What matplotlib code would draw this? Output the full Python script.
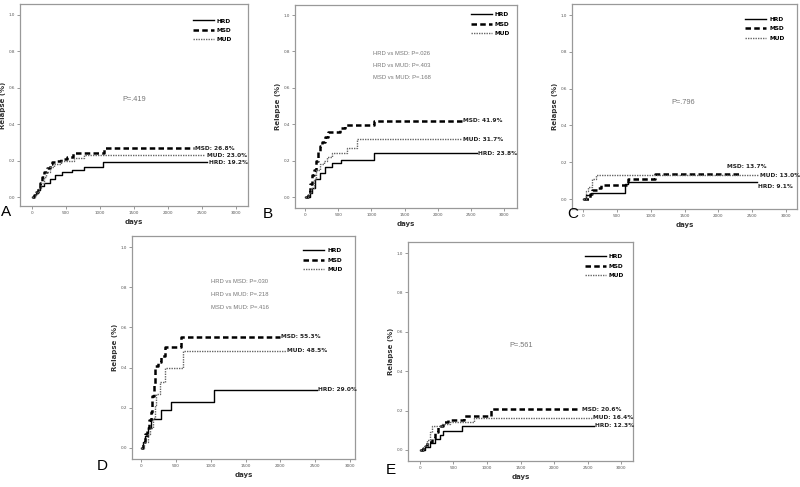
import matplotlib
matplotlib.use("Agg")
import matplotlib.pyplot as plt

plt.rcParams['font.family'] = ['DejaVu Sans']

# step curves: time (days) and cumulative relapse, value holds until next time
A_HRD_t = [0, 30, 60, 90, 120, 170, 270, 340, 440, 590, 760, 1050, 2580]
A_HRD_v = [0, 0.01, 0.025, 0.04, 0.06, 0.075, 0.10, 0.12, 0.14, 0.15, 0.165, 0.192, 0.192]
A_MSD_t = [0, 30, 60, 90, 120, 150, 180, 220, 260, 300, 360, 420, 520, 600, 1060, 2380]
A_MSD_v = [0, 0.01, 0.03, 0.05, 0.08, 0.11, 0.14, 0.16, 0.18, 0.19, 0.2, 0.21, 0.22, 0.24, 0.268, 0.268]
A_MUD_t = [0, 40, 70, 100, 130, 170, 210, 260, 320, 420, 620, 760, 2550]
A_MUD_v = [0, 0.01, 0.03, 0.05, 0.08, 0.11, 0.14, 0.165, 0.18, 0.2, 0.215, 0.23, 0.23]

B_HRD_t = [0, 70, 110, 150, 225, 300, 410, 540, 1045, 2590]
B_HRD_v = [0, 0.02, 0.05, 0.10, 0.13, 0.165, 0.185, 0.205, 0.24, 0.24]
B_MSD_t = [0, 40, 70, 100, 130, 160, 190, 220, 260, 300, 350, 420, 520, 600, 1045, 2360]
B_MSD_v = [0, 0.03, 0.07, 0.12, 0.15, 0.2, 0.25, 0.28, 0.3, 0.33, 0.355, 0.36, 0.38, 0.395, 0.419, 0.419]
B_MUD_t = [0, 50, 90, 130, 170, 220, 280, 330, 400, 630, 780, 2360]
B_MUD_v = [0, 0.02, 0.05, 0.1, 0.15, 0.18, 0.2, 0.22, 0.24, 0.272, 0.317, 0.317]

C_HRD_t = [0, 50, 120, 620, 660, 2570]
C_HRD_v = [0, 0.02, 0.035, 0.08, 0.091, 0.091]
C_MSD_t = [0, 100, 130, 200, 270, 660, 1060, 2330]
C_MSD_v = [0, 0.03, 0.05, 0.06, 0.077, 0.11, 0.137, 0.137]
C_MUD_t = [0, 40, 80, 140, 190, 2590]
C_MUD_v = [0, 0.045, 0.065, 0.11, 0.13, 0.13]

D_HRD_t = [0, 25, 60, 100, 145, 290, 437, 1050, 2520]
D_HRD_v = [0, 0.03, 0.06, 0.1, 0.145, 0.19, 0.23, 0.29, 0.29]
D_MSD_t = [0, 25, 60, 90, 120, 140, 160, 180, 200, 240, 280, 340, 570, 1990]
D_MSD_v = [0, 0.03, 0.07, 0.1, 0.14, 0.18, 0.26, 0.32, 0.41, 0.43, 0.46, 0.50, 0.553, 0.553]
D_MUD_t = [0, 40, 100, 130, 170, 200, 218, 267, 340, 607, 2080]
D_MUD_v = [0, 0.03, 0.07, 0.10, 0.15, 0.215, 0.27, 0.33, 0.40, 0.485, 0.485]

E_HRD_t = [0, 75, 150, 225, 300, 350, 625, 2590]
E_HRD_v = [0, 0.015, 0.035, 0.055, 0.075, 0.095, 0.123, 0.123]
E_MSD_t = [0, 50, 100, 175, 225, 275, 350, 420, 650, 1056, 2390]
E_MSD_v = [0, 0.02, 0.04, 0.06, 0.09, 0.12, 0.14, 0.15, 0.175, 0.206, 0.206]
E_MUD_t = [0, 50, 100, 150, 175, 325, 450, 800, 2565]
E_MUD_v = [0, 0.02, 0.05, 0.09, 0.12, 0.13, 0.14, 0.164, 0.164]

groups = ['HRD', 'MSD', 'MUD']
final_labels = {
    'A': ['HRD: 19.2%', 'MSD: 26.8%', 'MUD: 23.0%'],
    'B': ['HRD: 23.8%', 'MSD: 41.9%', 'MUD: 31.7%'],
    'C': ['HRD: 9.1%', 'MSD: 13.7%', 'MUD: 13.0%'],
    'D': ['HRD: 29.0%', 'MSD: 55.3%', 'MUD: 48.5%'],
    'E': ['HRD: 12.3%', 'MSD: 20.6%', 'MUD: 16.4%'],
}
p_texts = {
    'A': ['P=.419'],
    'B': ['HRD vs MSD: P=.026', 'HRD vs MUD: P=.403', 'MSD vs MUD: P=.168'],
    'C': ['P=.796'],
    'D': ['HRD vs MSD: P=.030', 'HRD vs MUD: P=.218', 'MSD vs MUD: P=.416'],
    'E': ['P=.561'],
}
curves = {
    'A': [(A_HRD_t, A_HRD_v), (A_MSD_t, A_MSD_v), (A_MUD_t, A_MUD_v)],
    'B': [(B_HRD_t, B_HRD_v), (B_MSD_t, B_MSD_v), (B_MUD_t, B_MUD_v)],
    'C': [(C_HRD_t, C_HRD_v), (C_MSD_t, C_MSD_v), (C_MUD_t, C_MUD_v)],
    'D': [(D_HRD_t, D_HRD_v), (D_MSD_t, D_MSD_v), (D_MUD_t, D_MUD_v)],
    'E': [(E_HRD_t, E_HRD_v), (E_MSD_t, E_MSD_v), (E_MUD_t, E_MUD_v)],
}

W, H = 800, 487
# panel frame in pixels (left, right, top, bottom), axis limits, letter position,
# legend anchor and position of the p-value text
layout = {
    'A': dict(px=(20, 248, 4, 206), xlim=(-176, 3176), ylim=(-0.049, 1.06), letter=(6, 212),
              leg=(0.94, 0.94), ptxt=(1500, 0.533)),
    'B': dict(px=(295, 517, 5, 208), xlim=(-151, 3196), ylim=(-0.06, 1.055), letter=(268, 214),
              leg=(0.98, 0.975), ptxt=(1455, 0.786)),
    'C': dict(px=(572, 797, 4, 209), xlim=(-163, 3163), ylim=(-0.054, 1.06), letter=(573, 214),
              leg=(0.955, 0.95), ptxt=(1480, 0.527)),
    'D': dict(px=(132, 355, 236, 459), xlim=(-129, 3071), ylim=(-0.055, 1.055), letter=(102, 466),
              leg=(0.955, 0.955), ptxt=(1420, 0.83)),
    'E': dict(px=(408, 633, 242, 461), xlim=(-179, 3179), ylim=(-0.056, 1.056), letter=(391, 470),
              leg=(0.97, 0.955), ptxt=(1505, 0.53)),
}
# end-label offsets in points, per panel and group
label_off = {
    'C': {0: (1, -3), 1: (-10, 5)},
}

styles = [
    dict(color='black', lw=1.0, ls='-'),
    dict(color='black', lw=1.8, ls=(0, (2.2, 1.3))),
    dict(color='#666666', lw=1.0, ls=(0, (1, 0.8))),
]

fig = plt.figure(figsize=(W / 100, H / 100), dpi=100)
fig.patch.set_facecolor('white')

for key in ['A', 'B', 'C', 'D', 'E']:
    lay = layout[key]
    l, r, t, b = lay['px']
    ax = fig.add_axes([l / W, (H - b) / H, (r - l) / W, (b - t) / H])
    for i, (tt, vv) in enumerate(curves[key]):
        ax.plot(tt, vv, drawstyle='steps-post', label=groups[i], **styles[i])
        dx, dy = label_off.get(key, {}).get(i, (1, 0))
        ax.annotate(final_labels[key][i], (tt[-1], vv[-1]), xytext=(dx, dy),
                    textcoords='offset points', fontsize=4.2, fontweight='bold',
                    va='center', ha='left', color='#222222')
    ax.set_xlim(*lay['xlim'])
    ax.set_ylim(*lay['ylim'])
    ax.set_xticks([0, 500, 1000, 1500, 2000, 2500, 3000])
    ax.set_yticks([0.0, 0.2, 0.4, 0.6, 0.8, 1.0])
    ax.set_yticklabels(['0.0', '0.2', '0.4', '0.6', '0.8', '1.0'])
    ax.tick_params(labelsize=3, length=2, width=0.6, colors='#888888',
                   labelcolor='#555555', pad=1.5)
    for s in ax.spines.values():
        s.set_color('#999999')
        s.set_linewidth(0.9)
    ax.set_xlabel('days', fontsize=5, fontweight='bold', labelpad=3, color='#333333')
    ax.set_ylabel('Relapse (%)', fontsize=5, fontweight='bold', labelpad=2, color='#333333')

    px_, py_ = lay['ptxt']
    lines = p_texts[key]
    if len(lines) == 1:
        ax.text(px_, py_, lines[0], fontsize=5.3, color='#777777', ha='center', va='center',
                family=['Liberation Sans', 'DejaVu Sans'])
    else:
        for j, s in enumerate(lines):
            ax.text(px_, py_ - j * 0.065, s, fontsize=4.2, color='#777777', ha='center',
                    va='center', family=['Liberation Sans', 'DejaVu Sans'])

    ax.legend(loc='upper right', bbox_to_anchor=lay['leg'], frameon=False,
              prop=dict(size=4.2, weight='bold'), handlelength=3.6, labelspacing=0.75,
              handletextpad=0.5, borderaxespad=0.0)

    lx, ly = lay['letter']
    fig.text(lx / W, 1 - ly / H, key, fontsize=11, ha='center', va='center',
             family=['Liberation Sans', 'DejaVu Sans'])

fig.savefig('out.png', dpi=100, facecolor='white')
